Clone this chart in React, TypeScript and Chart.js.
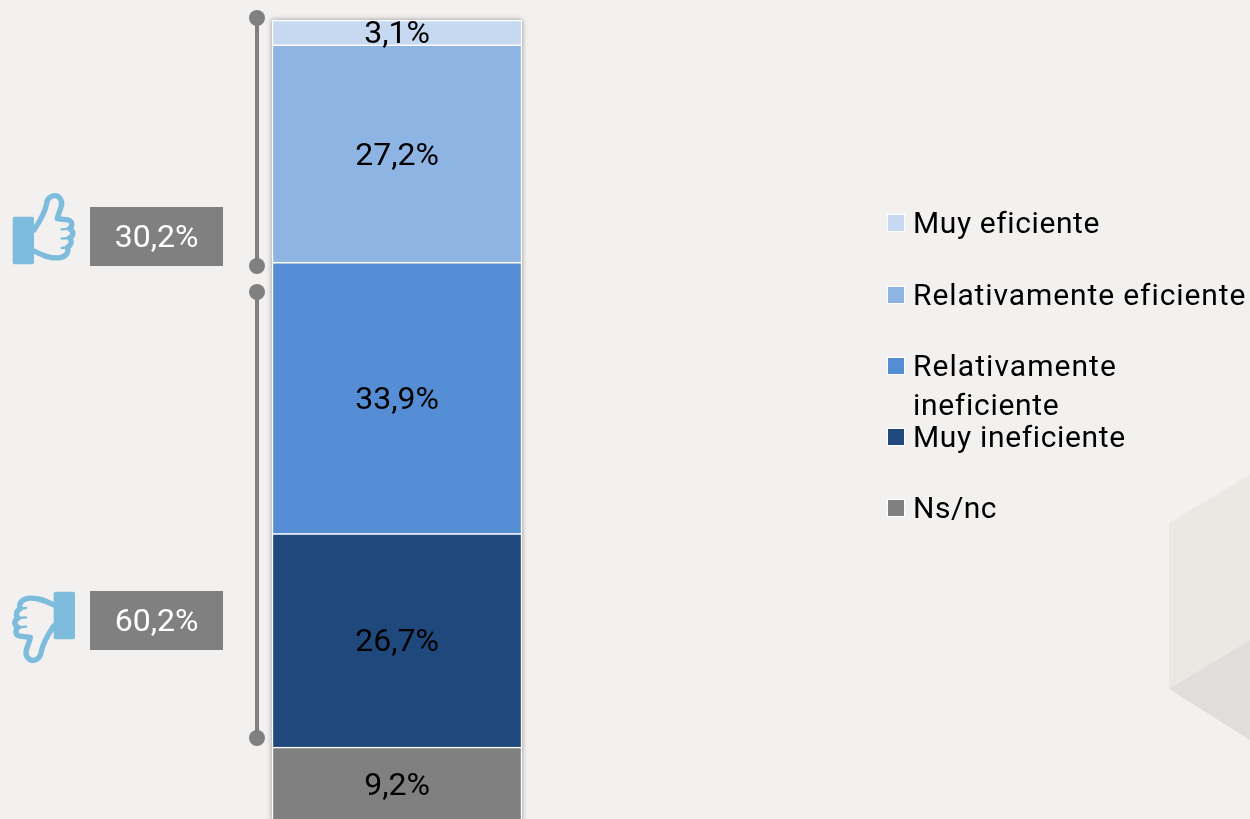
import React, { useEffect, useRef } from "react";
import { Chart, registerables } from "chart.js";

Chart.register(...registerables);

const categories = ["Valoración"];
const legendLabels = ["Muy eficiente", "Relativamente eficiente", "Relativamente ineficiente", "Muy ineficiente", "Ns/nc"];
const seriesValues = [3.1, 27.2, 33.9, 26.7, 9.2];
const seriesColors = ["#C6D9F1", "#8EB4E3", "#558ED5", "#1F497D", "#808080"];
const summaryLabels = ["30,2%", "60,2%"];

const FONT = "Roboto, sans-serif";
const W = 1250;
const H = 830;

const fmt = (v: number) => v.toFixed(1).replace(".", ",") + "%";

function thumb(ctx: CanvasRenderingContext2D, down: boolean, ox: number, oy: number) {
  ctx.save();
  ctx.translate(ox, oy);
  ctx.scale(1 / 3, 1 / 3);
  if (down) {
    ctx.translate(263, 348);
    ctx.rotate(Math.PI);
  }
  ctx.fillStyle = "#7DBCDC";
  ctx.strokeStyle = "#7DBCDC";
  ctx.beginPath();
  ctx.roundRect(38, 140, 64, 143, 6);
  ctx.fill();
  ctx.lineWidth = 16;
  ctx.lineJoin = "round";
  ctx.lineCap = "round";
  ctx.beginPath();
  ctx.moveTo(102, 180);
  ctx.bezierCurveTo(122, 150, 136, 125, 140, 100);
  ctx.bezierCurveTo(143, 78, 170, 68, 182, 88);
  ctx.bezierCurveTo(192, 105, 175, 125, 172, 146);
  ctx.lineTo(205, 150);
  ctx.bezierCurveTo(218, 153, 218, 170, 208, 176);
  ctx.bezierCurveTo(222, 182, 222, 198, 208, 204);
  ctx.bezierCurveTo(218, 212, 214, 226, 202, 232);
  ctx.bezierCurveTo(208, 246, 198, 260, 180, 263);
  ctx.bezierCurveTo(150, 267, 125, 255, 102, 243);
  ctx.stroke();
  ctx.lineWidth = 7;
  ctx.beginPath();
  ctx.moveTo(185, 178);
  ctx.lineTo(208, 176);
  ctx.moveTo(185, 206);
  ctx.lineTo(208, 204);
  ctx.moveTo(185, 234);
  ctx.lineTo(202, 232);
  ctx.stroke();
  ctx.restore();
}

const decorPlugin = {
  id: "decor",
  beforeDraw(chart: any) {
    const ctx: CanvasRenderingContext2D = chart.ctx;
    ctx.save();
    ctx.fillStyle = "#F2F1EF";
    ctx.fillRect(0, 0, W, H);
    ctx.fillStyle = "#EAE8E3";
    ctx.beginPath();
    ctx.moveTo(1169, 523);
    ctx.lineTo(1250, 475);
    ctx.lineTo(1250, 640);
    ctx.lineTo(1169, 689);
    ctx.closePath();
    ctx.fill();
    ctx.fillStyle = "#DFDEDC";
    ctx.beginPath();
    ctx.moveTo(1169, 689);
    ctx.lineTo(1250, 640);
    ctx.lineTo(1250, 740);
    ctx.closePath();
    ctx.fill();
    const a = chart.chartArea;
    ctx.shadowColor = "rgba(0,0,0,0.4)";
    ctx.shadowBlur = 5;
    ctx.fillStyle = "#FFFFFF";
    ctx.fillRect(a.left, a.top, a.right - a.left, a.bottom - a.top);
    ctx.restore();
  },
  afterDraw(chart: any) {
    const ctx: CanvasRenderingContext2D = chart.ctx;
    ctx.save();

    ctx.textAlign = "center";
    ctx.textBaseline = "middle";
    ctx.fillStyle = "#000000";
    ctx.font = `400 32px ${FONT}`;
    chart.data.datasets.forEach((ds: any, i: number) => {
      const el = chart.getDatasetMeta(i).data[0];
      ctx.fillText(fmt(ds.data[0]), el.x, (el.y + el.base) / 2 + 3);
    });

    ctx.strokeStyle = "#808080";
    ctx.fillStyle = "#808080";
    ctx.lineWidth = 4;
    [[18, 266], [292, 738]].forEach(([y0, y1]) => {
      ctx.beginPath();
      ctx.moveTo(257, y0);
      ctx.lineTo(257, y1);
      ctx.stroke();
      [y0, y1].forEach((y) => {
        ctx.beginPath();
        ctx.arc(257, y, 8, 0, Math.PI * 2);
        ctx.fill();
      });
    });

    [207, 591].forEach((y, i) => {
      ctx.fillStyle = "#808080";
      ctx.fillRect(90, y, 133, 59);
      ctx.fillStyle = "#FFFFFF";
      ctx.font = `400 32px ${FONT}`;
      ctx.textAlign = "center";
      ctx.textBaseline = "middle";
      ctx.fillText(summaryLabels[i], 156.5, y + 32);
    });
    thumb(ctx, false, 0, 170);
    thumb(ctx, true, 0, 570);

    ctx.textAlign = "left";
    ctx.textBaseline = "alphabetic";
    ctx.font = `400 30px ${FONT}`;
    const rows: [number, number, [string, string][]][] = [
      [0, 233, [[legendLabels[0], "0.6px"]]],
      [1, 305, [[legendLabels[1], "0.9px"]]],
      [2, 376, [["Relativamente", "1.05px"], ["ineficiente", "0.7px"]]],
      [3, 447, [[legendLabels[3], "0.65px"]]],
      [4, 518, [[legendLabels[4], "0.5px"]]],
    ];
    rows.forEach(([idx, base, lines]) => {
      ctx.fillStyle = "#FFFFFF";
      ctx.fillRect(887, base - 19, 18, 18);
      ctx.fillStyle = seriesColors[idx];
      ctx.fillRect(888, base - 18, 16, 16);
      ctx.fillStyle = "#000000";
      lines.forEach(([t, sp], k) => {
        (ctx as any).letterSpacing = sp;
        ctx.fillText(t, 913, base + k * 39);
      });
    });
    ctx.restore();
  },
};

export default function App() {
  const ref = useRef<HTMLCanvasElement>(null);
  useEffect(() => {
    document.body.style.margin = "0";
    document.body.style.overflow = "hidden";
    const order = [4, 3, 2, 1, 0];
    const chart = new Chart(ref.current!, {
      type: "bar",
      data: {
        labels: categories,
        datasets: order.map((i) => ({
          label: legendLabels[i],
          data: [seriesValues[i]],
          backgroundColor: seriesColors[i],
          borderColor: "#FFFFFF",
          borderWidth: 1.5,
          barPercentage: 1,
          categoryPercentage: 1,
        })),
      },
      options: {
        animation: false,
        responsive: false,
        devicePixelRatio: 1,
        layout: { padding: { left: 272, right: W - 522, top: 20, bottom: H - 820.8 } },
        plugins: { legend: { display: false }, tooltip: { enabled: false } },
        scales: {
          x: { stacked: true, display: false },
          y: { stacked: true, display: false, min: 0, max: 100.1 },
        },
      },
      plugins: [decorPlugin],
    });
    return () => chart.destroy();
  }, []);
  return (
    <div style={{ position: "fixed", left: 0, top: 0, width: 1250, height: 819, overflow: "hidden" }}>
      <canvas ref={ref} width={W} height={H} style={{ display: "block" }} />
    </div>
  );
}
